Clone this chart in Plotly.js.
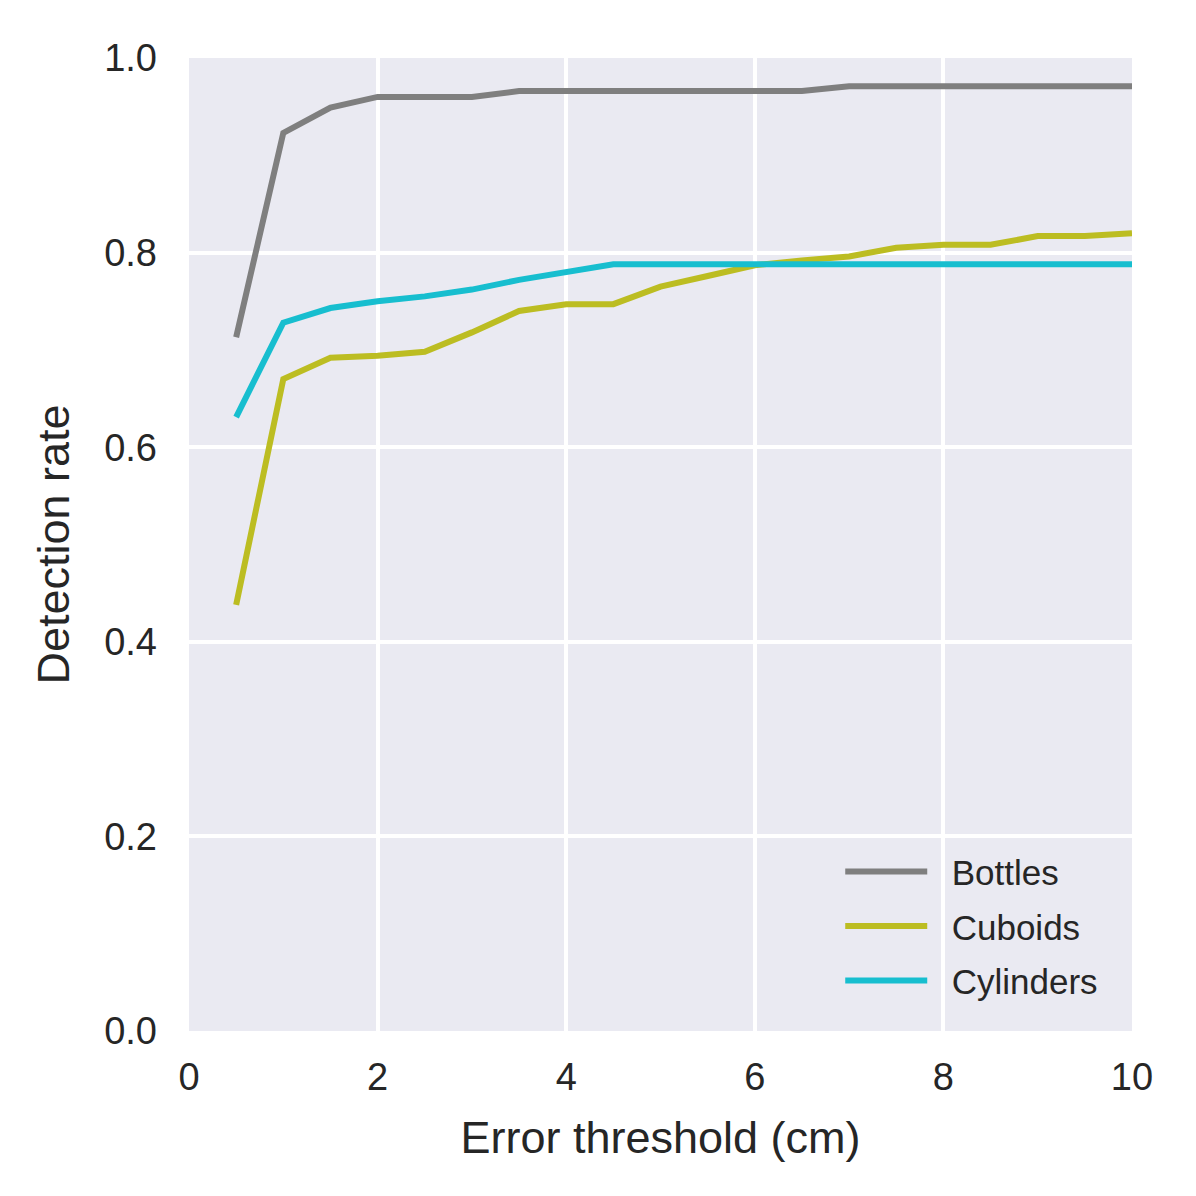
<!DOCTYPE html>
<html>
<head>
<meta charset="utf-8">
<script src="https://cdn.plot.ly/plotly-3.0.1.min.js"></script>
<style>html,body{margin:0;padding:0;background:#fff;}#chart{width:1196px;height:1196px;}</style>
</head>
<body>
<div id="chart"></div>
<script>
const thresholds = [0.5,1,1.5,2,2.5,3,3.5,4,4.5,5,5.5,6,6.5,7,7.5,8,8.5,9,9.5,10];
const bottles   = [0.713,0.923,0.949,0.960,0.960,0.960,0.966,0.966,0.966,0.966,0.966,0.966,0.966,0.971,0.971,0.971,0.971,0.971,0.971,0.971];
const cuboids   = [0.438,0.670,0.692,0.694,0.698,0.718,0.740,0.747,0.747,0.765,0.776,0.787,0.792,0.796,0.805,0.808,0.808,0.817,0.817,0.820];
const cylinders = [0.631,0.728,0.743,0.750,0.755,0.762,0.772,0.780,0.788,0.788,0.788,0.788,0.788,0.788,0.788,0.788,0.788,0.788,0.788,0.788];
const seriesNames = ["Bottles","Cuboids","Cylinders"];
const seriesColors = ["#7f7f7f","#bcbd22","#17becf"];
const xTicks = [0,2,4,6,8,10];
const yTicks = [0.0,0.2,0.4,0.6,0.8,1.0];

const allSeries = [bottles, cuboids, cylinders];
const pad = "\u00a0\u00a0";
const traces = allSeries.map((ys, i) => ({
  x: thresholds, y: ys, type: "scatter", mode: "lines", name: pad + seriesNames[i],
  legendgroup: "g" + i,
  line: {color: seriesColors[i], width: 6}
}));

const font = "Liberation Sans, Arial, sans-serif";
const layout = {
  width: 1196, height: 1196,
  margin: {l: 189, r: 64, t: 58, b: 165},
  paper_bgcolor: "#ffffff",
  plot_bgcolor: "#eaeaf2",
  font: {family: font, color: "#262626"},
  showlegend: true,
  legend: {
    x: 0.6906, y: 0.194, xanchor: "left", yanchor: "top",
    bgcolor: "rgba(0,0,0,0)", borderwidth: 0,
    font: {size: 35, family: font, color: "#262626"},
    itemwidth: 82, traceorder: "grouped", tracegroupgap: 6
  },
  xaxis: {
    range: [0, 10], tickvals: xTicks, ticktext: xTicks.map(String),
    showgrid: true, gridcolor: "#ffffff", gridwidth: 4,
    zeroline: false, showline: false, ticks: "",
    ticklabelstandoff: 20,
    tickfont: {size: 38, family: font, color: "#262626"},
    title: {text: "Error threshold (cm)", font: {size: 45, family: font, color: "#262626"}, standoff: 24}
  },
  yaxis: {
    range: [0, 1], tickvals: yTicks, ticktext: yTicks.map(v => v.toFixed(1)),
    showgrid: true, gridcolor: "#ffffff", gridwidth: 4,
    zeroline: false, showline: false, ticks: "",
    ticklabelstandoff: 31,
    tickfont: {size: 38, family: font, color: "#262626"},
    title: {text: "Detection rate", font: {size: 45, family: font, color: "#262626"}, standoff: 20}
  }
};
Plotly.newPlot("chart", traces, layout, {displayModeBar: false});
</script>
</body>
</html>
